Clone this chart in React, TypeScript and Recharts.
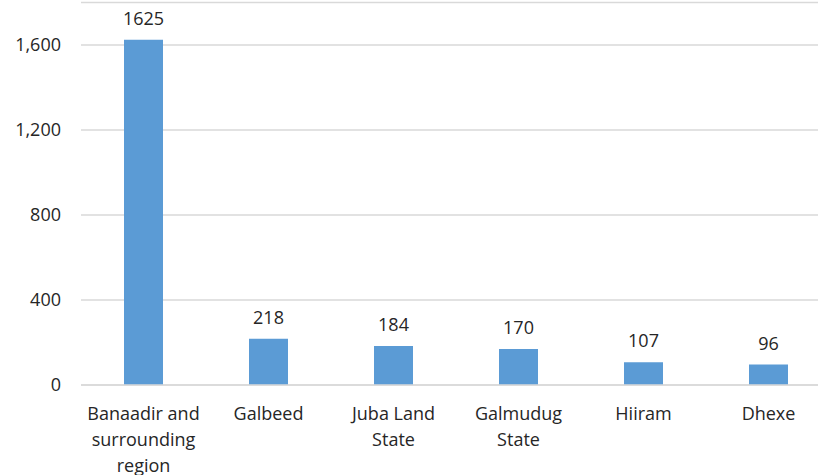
import React from "react";
import { BarChart, Bar, XAxis, YAxis, CartesianGrid, LabelList } from "recharts";

const categories = [
  "Banaadir and surrounding region",
  "Galbeed",
  "Juba Land State",
  "Galmudug State",
  "Hiiram",
  "Dhexe",
];
const values = [1625, 218, 184, 170, 107, 96];
const yTicks = [0, 400, 800, 1200, 1600];

const data = categories.map((c, i) => ({ name: c, value: values[i] }));

const FONT = "'Open Sans', sans-serif";
const TEXT = "#262626";

function wrap(s: string, max: number): string[] {
  const words = s.split(" ");
  const lines: string[] = [];
  let cur = "";
  for (const w of words) {
    const t = cur ? cur + " " + w : w;
    if (t.length > max && cur) {
      lines.push(cur);
      cur = w;
    } else cur = t;
  }
  if (cur) lines.push(cur);
  return lines;
}

const XTick = (props: any) => {
  const { x, y, payload } = props;
  const lines = wrap(String(payload.value), 12);
  return (
    <g transform={`translate(${x},${y})`}>
      {lines.map((l, i) => (
        <text
          key={i}
          x={0}
          y={26.5 + i * 26.3}
          textAnchor="middle"
          fill={TEXT}
          fontSize={18}
          fontFamily={FONT}
        >
          {l}
        </text>
      ))}
    </g>
  );
};

export default function App() {
  return (
    <div
      style={{
        position: "absolute",
        left: 0,
        top: 0,
        width: 818,
        height: 475,
        overflow: "hidden",
        background: "#fff",
      }}
    >
      <BarChart
        width={840}
        height={475}
        data={data}
        margin={{ top: 2.5, right: 9, bottom: 0, left: 0 }}
        barCategoryGap={0}
      >
        <CartesianGrid vertical={false} stroke="#d9d9d9" strokeWidth={1.5} />
        <XAxis
          dataKey="name"
          height={90}
          interval={0}
          tickLine={false}
          axisLine={{ stroke: "#d9d9d9", strokeWidth: 1.5 }}
          tick={<XTick />}
        />
        <YAxis
          width={81}
          domain={[0, 1800]}
          ticks={yTicks}
          axisLine={false}
          tickLine={false}
          tickSize={0}
          tickMargin={20}
          tickFormatter={(v: number) => v.toLocaleString("en-US")}
          tick={{ fill: TEXT, fontSize: 18, fontFamily: FONT }}
        />
        <Bar dataKey="value" fill="#5b9bd5" barSize={39} isAnimationActive={false}>
          <LabelList
            dataKey="value"
            position="top"
            offset={15}
            fill={TEXT}
            fontSize={18}
            fontFamily={FONT}
          />
        </Bar>
      </BarChart>
    </div>
  );
}
